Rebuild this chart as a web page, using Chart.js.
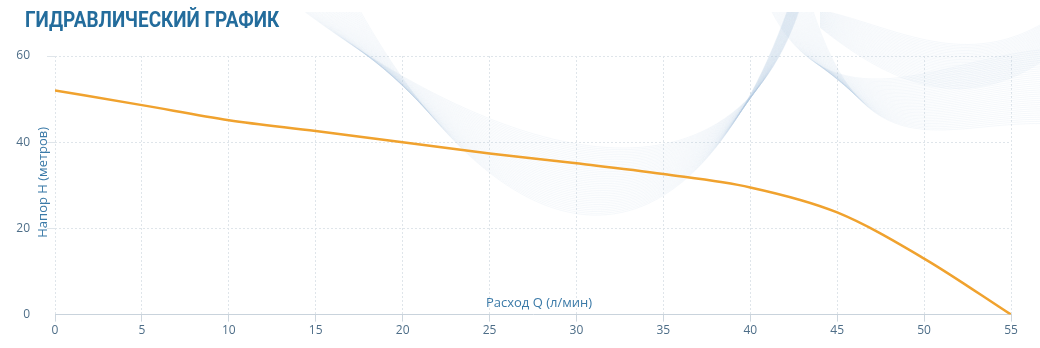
<!DOCTYPE html>
<html>
<head>
<meta charset="UTF-8">
<title>Гидравлический график</title>
<script src="https://cdn.jsdelivr.net/npm/chart.js@4.4.1/dist/chart.umd.min.js"></script>
<style>
	body { margin:0; background:#fff; }
	#wrap { position:relative; width:1040px; height:348px; }
	#ttl {
		position:absolute; left:25px; top:7px; margin:0;
		font-family:Roboto, sans-serif; font-weight:700; font-size:22px;
		color:#236c9c; transform:scaleX(0.86); transform-origin:left top;
		white-space:nowrap;
	}
</style>
</head>
<body>
<div id="wrap">
	<canvas id="pumpChart" width="1040" height="348"></canvas>
	<h2 id="ttl">ГИДРАВЛИЧЕСКИЙ ГРАФИК</h2>
</div>
<script>
	// values
	var flow = [0, 5, 10, 15, 20, 25, 30, 35, 40, 45, 50, 55];
	var head = [52, 48.6, 45.1, 42.6, 40, 37.4, 35.1, 32.6, 29.5, 23.7, 13, 0];
	var xTitle = "Расход Q (л/мин)";
	var yTitle = "Напор H (метров)";

	var points = flow.map(function(q, i) { return {x:q, y:head[i]}; });
	var tickColor = '#4e6e88';
	var gridColor = '#dfe5ea';

	// faint wave ornament behind the curve
	var waves = {
		id: 'waves',
		beforeDatasetsDraw: function(chart) {
			var c = chart.ctx;
			c.save();
			c.beginPath();
			c.rect(0, 12, chart.width, chart.height - 12);
			c.clip();
			c.lineWidth = 0.5;
			c.strokeStyle = 'rgba(175,203,226,0.25)';
			var i;
			for (i = 0; i < 40; i++) {
				c.beginPath();
				c.moveTo(300 + i * 1.5, 8);
				c.bezierCurveTo(460 + i, 130 + i * 3.3, 720 - i, 250 + i * 1.5, 800 - i * 0.3, 8);
				c.stroke();
			}
			for (i = 0; i < 36; i++) {
				c.beginPath();
				c.moveTo(770 + i * 1.2, 8);
				c.bezierCurveTo(830 + i, 130 + i * 1.2, 940, 60 + i * 1.8, 1040, 50 + i * 2.1);
				c.stroke();
			}
			for (i = 0; i < 30; i++) {
				c.beginPath();
				c.moveTo(820, 10 + i * 0.6);
				c.bezierCurveTo(890, 25 + i * 2, 960, 70 + i * 1.5, 1040, 25 + i * 1.3);
				c.stroke();
			}
			c.restore();
		}
	};

	// axis titles sit inside the plot, not outside the ticks
	var axisTitles = {
		id: 'axisTitles',
		afterDraw: function(chart) {
			var c = chart.ctx, a = chart.chartArea;
			c.save();
			c.fillStyle = '#3b7aa8';
			c.font = '13px "Open Sans", sans-serif';
			c.textAlign = 'center';
			c.textBaseline = 'middle';
			c.fillText(xTitle, (a.left + a.right) / 2 + 6, a.bottom - 11);
			c.translate(43, (a.top + a.bottom) / 2 - 3);
			c.rotate(-Math.PI / 2);
			c.fillText(yTitle, 0, 0);
			c.restore();
		}
	};

	var ctx = document.getElementById("pumpChart").getContext('2d');
	var pumpChart = new Chart(ctx, {
		type: 'line',
		data: {
			datasets: [{
				data: points,
				borderColor: '#f0a22e',
				borderWidth: 2.5,
				pointRadius: 0,
				fill: false,
				cubicInterpolationMode: 'monotone'
			}]
		},
		options: {
			responsive: false,
			animation: false,
			layout: { padding: { top: 56, right: 29, bottom: 8, left: 0 } },
			plugins: { legend: { display:false }, tooltip: { enabled:false } },
			scales: {
				x: {
					type: 'linear', min: 0, max: 55,
					ticks: { stepSize: 5, color: tickColor, padding: 2, font: { family:'Open Sans', size:12 } },
					grid: { color: gridColor, tickLength: 7, tickColor: '#cdd6de' },
					border: { display: true, color: '#c9d3dc' }
				},
				y: {
					min: 0, max: 60,
					afterFit: function(s) { s.width = 55; },
					ticks: { stepSize: 20, color: tickColor, padding: 17, font: { family:'Open Sans', size:12 } },
					grid: {
						color: function(g) { return g.tick.value === 0 ? 'rgba(0,0,0,0)' : gridColor; },
						tickLength: 8
					},
					border: { display: false, dash: [2, 2] }
				}
			}
		},
		plugins: [waves, axisTitles]
	});
	// dotted grid
	pumpChart.options.scales.x.border.dash = [2, 2];
	pumpChart.update();
</script>
</body>
</html>
